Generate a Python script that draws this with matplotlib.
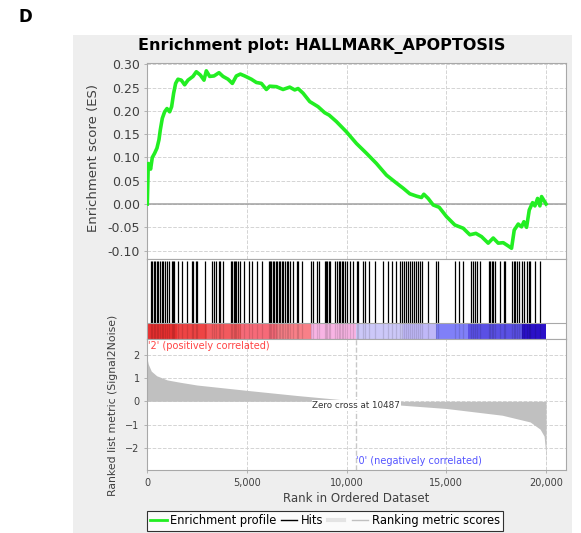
import numpy as np
import matplotlib
matplotlib.use('Agg')
import matplotlib.pyplot as plt
from matplotlib.lines import Line2D
from matplotlib.patches import Rectangle
from matplotlib.ticker import FuncFormatter

# running enrichment score (rank, ES)
es_rank = [0, 50, 167, 251, 368, 485, 586, 652, 753, 870, 987, 1121, 1221, 1322,
           1422, 1539, 1706, 1874, 2041, 2292, 2459, 2660, 2844, 2961, 3129, 3346,
           3597, 3798, 4049, 4266, 4467, 4668, 4885, 5220, 5471, 5722, 5973, 6140,
           6475, 6809, 7144, 7395, 7562, 7813, 8147, 8565, 8900, 9118, 9486, 9988,
           10490, 10992, 11494, 11996, 12497, 12832, 13166, 13501, 13752, 13869,
           14086, 14338, 14639, 15007, 15425, 15843, 16178, 16479, 16763, 17098,
           17349, 17600, 17851, 18102, 18269, 18403, 18604, 18771, 18888, 19022,
           19156, 19323, 19440, 19574, 19691, 19775, 20000]
es_val = [0.0, 0.087, 0.075, 0.100, 0.109, 0.120, 0.138, 0.159, 0.184, 0.198,
          0.205, 0.198, 0.209, 0.238, 0.259, 0.268, 0.266, 0.256, 0.266, 0.274,
          0.284, 0.277, 0.266, 0.286, 0.274, 0.275, 0.282, 0.274, 0.268, 0.259,
          0.275, 0.279, 0.275, 0.268, 0.261, 0.259, 0.246, 0.253, 0.252, 0.246,
          0.251, 0.245, 0.248, 0.238, 0.220, 0.209, 0.196, 0.191, 0.177, 0.155,
          0.130, 0.109, 0.087, 0.062, 0.045, 0.034, 0.022, 0.017, 0.014, 0.021,
          0.012, -0.002, -0.007, -0.027, -0.045, -0.052, -0.066, -0.063, -0.070,
          -0.084, -0.073, -0.084, -0.083, -0.090, -0.095, -0.056, -0.043, -0.049,
          -0.038, -0.050, -0.013, 0.003, -0.004, 0.012, -0.004, 0.016, 0.0]

# positions of gene set members in the ranked list
hits = [184, 251, 318, 402, 468, 552, 636, 719, 803, 887, 970, 1071, 1221, 1288,
        1355, 1522, 1723, 2008, 2242, 2309, 2426, 2510, 2894, 3262, 3346, 3430,
        3597, 3664, 3815, 4216, 4266, 4333, 4400, 4467, 4567, 4651, 4835, 5086,
        5270, 5487, 5755, 6106, 6157, 6224, 6290, 6357, 6441, 6525, 6608, 6675,
        6742, 6826, 6910, 6993, 7077, 7160, 7328, 7495, 7579, 7780, 8198, 8315,
        8533, 8599, 8917, 8967, 9034, 9101, 9168, 9419, 9503, 9603, 9670, 9754,
        9838, 9921, 10038, 10172, 10339, 10507, 10590, 10825, 10925, 11126, 11427,
        11845, 12096, 12263, 12481, 12682, 12798, 12882, 12982, 13083, 13183,
        13283, 13384, 13484, 13601, 13685, 13802, 14103, 14488, 14605, 15442,
        15609, 15826, 16228, 16328, 16412, 16529, 16663, 17114, 17164, 17265,
        17349, 17449, 17700, 17868, 17951, 18286, 18370, 18454, 18537, 18621,
        18788, 18872, 19039, 19123, 19207, 19424, 19709]

# ranked list metric (Signal2Noise), read points
metric_rank = [0, 50, 200, 470, 1000, 1640, 2500, 5000, 7500, 10000, 10487,
               12800, 15000, 17800, 19200, 19700, 19900, 19980, 20000]
metric_val = [1.8, 1.6, 1.3, 1.1, 0.92, 0.82, 0.7, 0.47, 0.25, 0.05, 0.0,
              -0.17, -0.31, -0.6, -0.89, -1.2, -1.5, -2.2, -2.9]

# colour bar under the hits
band_start = [0, 1500, 3000, 4700, 6500, 8200, 10487, 12800, 14500, 16100, 18800]
band_end = [1500, 3000, 4700, 6500, 8200, 10487, 12800, 14500, 16100, 18800, 20000]
band_color = ['#e83030', '#ee4444', '#f25a5e', '#f66a78', '#f88088', '#f8b4e4',
              '#ccc8f8', '#c0b8f8', '#8080f8', '#5a50e4', '#2a10c8']

zero_cross = 10487
W, H = 581, 533
spine_c = '#a8a8a8'
grid_c = '#d4d4d4'
tick_c = '#404040'

fig = plt.figure(figsize=(W / 100, H / 100), dpi=100)
fig.patches.append(Rectangle((73 / W, 0), (572 - 73) / W, 1 - 35 / H,
                             transform=fig.transFigure, facecolor='#eeeeee',
                             edgecolor='none', zorder=-5))
fig.text(18 / W, 1 - 17 / H, 'D', fontsize=12, fontweight='bold', va='center')

ax1 = fig.add_axes([0.2535, 0.5141, 0.7207, 0.3683])
ax2 = fig.add_axes([0.2535, 0.3634, 0.7207, 0.1507])
ax3 = fig.add_axes([0.2535, 0.1182, 0.7207, 0.2452])

xt = [0, 5000, 10000, 15000, 20000]
for ax in (ax1, ax2, ax3):
    ax.set_zorder(1)
    ax.set_facecolor('white')
    ax.set_xlim(0, 21000)
    for s in ax.spines.values():
        s.set_color(spine_c)
        s.set_linewidth(0.8)
    ax.set_xticks(xt)
    ax.grid(True, color=grid_c, ls='--', lw=0.7)
    ax.set_axisbelow(True)
    ax.tick_params(colors=spine_c, labelcolor=tick_c, length=2, width=0.6)

# enrichment score
ax1.plot(es_rank, es_val, color='#22ee22', lw=2.6, zorder=3)
ax1.axhline(0, color='#a0a0a0', lw=1.1, zorder=2)
ax1.set_ylim(-0.118, 0.3035)
ax1.set_yticks([-0.10, -0.05, 0.0, 0.05, 0.10, 0.15, 0.20, 0.25, 0.30])
ax1.yaxis.set_major_formatter(FuncFormatter(lambda v, p: '%.2f' % v if abs(v) > 1e-9 else '0.00'))
ax1.tick_params(axis='y', labelsize=9)
ax1.tick_params(axis='x', labelbottom=False, length=0)

# hits and colour bar
bar_top = 0.203
ax2.set_ylim(0, 1)
ax2.set_yticks([])
ax2.tick_params(axis='x', labelbottom=False, length=0)
ax2.grid(False)
ax2.vlines(hits, bar_top, 0.975, color='black', lw=0.9,
           transform=ax2.get_xaxis_transform(), zorder=3)
for s, e, c in zip(band_start, band_end, band_color):
    ax2.axvspan(s, e, ymin=0, ymax=bar_top, color=c, lw=0, zorder=2)
ax2.vlines(hits, 0, bar_top, color='black', lw=0.9, alpha=0.12,
           transform=ax2.get_xaxis_transform(), zorder=3)
ax2.axhline(bar_top, color=spine_c, lw=0.8, zorder=4)

# ranked list metric
ax3.fill_between(metric_rank, metric_val, 0, color='#c0c0c0', lw=0, zorder=2)
ax3.axvline(zero_cross, color='#c8c8c8', ls='--', lw=1, zorder=2)
ax3.set_ylim(-2.96, 2.67)
ax3.set_yticks([-2, -1, 0, 1, 2])
ax3.set_xticklabels(['0', '5,000', '10,000', '15,000', '20,000'])
ax3.tick_params(labelsize=7)
ax3.set_xlabel('Rank in Ordered Dataset', fontsize=8.5, color=tick_c, labelpad=3)
ax3.text(60, 1 - 2 / 130.7, "'2' (positively correlated)", transform=ax3.get_xaxis_transform(),
         color='#ff4444', fontsize=7, va='top', ha='left', zorder=5)
ax3.text(zero_cross, 0.071, "'0' (negatively correlated)", transform=ax3.get_xaxis_transform(),
         color='#5555ff', fontsize=7, va='center', ha='left', zorder=5)
ax3.text(zero_cross, -0.19, 'Zero cross at 10487', color='#333333', fontsize=6.3,
         ha='center', va='center', zorder=5,
         bbox=dict(facecolor='white', edgecolor='none', pad=0.6))

fig.text(322 / W, 1 - 46 / H, 'Enrichment plot: HALLMARK_APOPTOSIS',
         fontsize=11.5, fontweight='bold', ha='center', va='center')
fig.text(93 / W, 1 - 158 / H, 'Enrichment score (ES)', rotation=90,
         fontsize=9.5, color=tick_c, ha='center', va='center')
fig.text(113 / W, 1 - 405 / H, 'Ranked list metric (Signal2Noise)', rotation=90,
         fontsize=7.8, color=tick_c, ha='center', va='center')

handles = [Line2D([], [], color='#22ee22', lw=2),
           Line2D([], [], color='black', lw=1),
           Line2D([], [], color='#e4e4e4', lw=3),
           Line2D([], [], color='#c0c0c0', lw=1)]
labels = ['Enrichment profile', 'Hits', '', 'Ranking metric scores']
leg = fig.legend(handles, labels, loc='upper left', bbox_to_anchor=(147 / W, 1 - 511 / H),
                 ncol=4, frameon=True, fancybox=False, edgecolor='black', fontsize=8.3,
                 handlelength=1.4, columnspacing=0.4, handletextpad=0.3,
                 borderpad=0.3, borderaxespad=0)
leg.get_frame().set_linewidth(0.8)

fig.savefig('out.png', dpi=100)
